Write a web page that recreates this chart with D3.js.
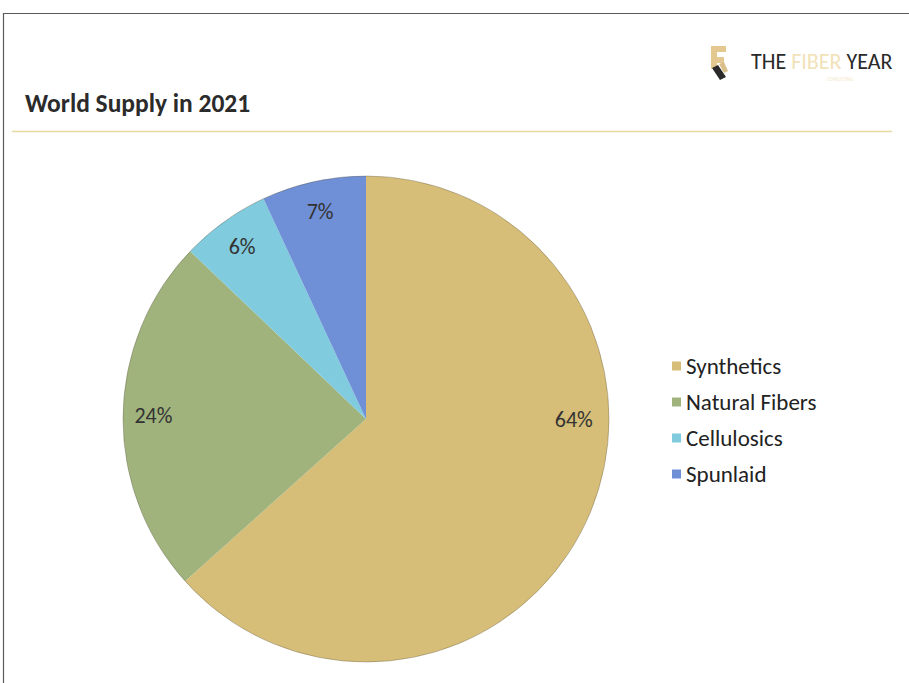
<!DOCTYPE html>
<html>
<head>
<meta charset="utf-8">
<script src="https://cdn.jsdelivr.net/npm/d3@7"></script>
<style>
  html, body { margin: 0; padding: 0; background: #fff; }
  svg { display: block; }
  text { font-family: Carlito, Calibri, Lato, "Open Sans", sans-serif; }
</style>
</head>
<body>
<svg id="chart" width="909" height="683"></svg>
<script>
// Fibre supply shares, 2021 (percent)
const categories = ["Synthetics", "Natural Fibers", "Cellulosics", "Spunlaid"];
const shares = [64, 24, 6, 7];
const colors = ["#d6be78", "#a0b37d", "#80cbdd", "#6f8fd7"];
const titleText = "World Supply in 2021";

const svg = d3.select("#chart");
const W = 909, H = 683;

// frame
svg.append("line").attr("x1", 3).attr("x2", W).attr("y1", 13.5).attr("y2", 13.5)
  .attr("stroke", "#5a5a5a").attr("stroke-width", 1.2);
svg.append("line").attr("x1", 3.5).attr("x2", 3.5).attr("y1", 13).attr("y2", H)
  .attr("stroke", "#5a5a5a").attr("stroke-width", 1.2);

// title and rule
svg.append("text").attr("x", 25).attr("y", 112)
  .attr("font-size", 25.5).attr("font-weight", 700).attr("fill", "#2b2b2b")
  .text(titleText);
svg.append("line").attr("x1", 12).attr("x2", 892).attr("y1", 131.5).attr("y2", 131.5)
  .attr("stroke", "#e6d9a2").attr("stroke-width", 1.3);

// brand mark
const logo = svg.append("g").attr("transform", "translate(706,44)");
logo.append("path").attr("d", "M5,2 L20,2 L20,8 L11,8 L11,13 L18,13 L18,19 L11,19 L11,23 L5,25 Z")
  .attr("fill", "#e3c98f");
logo.append("path").attr("d", "M6,24 L12,21 L20,33 L14,36 Z").attr("fill", "#2a2a2a");
logo.append("path").attr("d", "M13,20 L18,18 L22,27 L18,29 Z").attr("fill", "#d9c08a");
const brand = svg.append("text").attr("x", 751).attr("y", 69).attr("font-size", 22)
  .attr("font-family", "Lato, sans-serif");
brand.append("tspan").attr("fill", "#2a2a2a").text("THE ");
brand.append("tspan").attr("fill", "#f1e2b8").text("FIBER");
brand.append("tspan").attr("fill", "#2a2a2a").text(" YEAR");
svg.append("text").attr("x", 840).attr("y", 81).attr("font-size", 5)
  .attr("fill", "#f3e8c8").attr("text-anchor", "middle").text("CONSULTING");

// pie
const cx = 366, cy = 419, R = 243;
const pie = d3.pie().sort(null).value(d => d.value);
const data = pie(categories.map((c, i) => ({ name: c, value: shares[i], color: colors[i] })));
const arc = d3.arc().innerRadius(0).outerRadius(R);
const g = svg.append("g").attr("transform", `translate(${cx},${cy})`);

g.selectAll("path.slice").data(data).join("path")
  .attr("class", "slice")
  .attr("d", arc)
  .attr("fill", d => d.data.color);
g.append("circle").attr("r", R).attr("fill", "none")
  .attr("stroke", "rgba(90,80,60,0.35)").attr("stroke-width", 1);

// data labels: along mid-angle, except a dominant slice spanning 3 o'clock sits at 3 o'clock
const labelR = R * 0.875;
g.selectAll("text.lbl").data(data).join("text")
  .attr("class", "lbl")
  .attr("transform", d => {
    let a = (d.startAngle + d.endAngle) / 2;
    if (d.endAngle - d.startAngle > Math.PI && d.startAngle <= Math.PI / 2 && d.endAngle >= Math.PI / 2) a = Math.PI / 2;
    const r = a === Math.PI / 2 ? R * 0.855 : labelR;
    const x = r * Math.sin(a), y = -r * Math.cos(a);
    return `translate(${x},${y})`;
  })
  .attr("text-anchor", "middle")
  .attr("dy", "0.35em")
  .attr("font-size", 22)
  .attr("fill", "#333")
  .text(d => d.data.value + "%");

// legend
const legend = svg.append("g").attr("transform", "translate(672,366)");
const rows = legend.selectAll("g").data(categories).join("g")
  .attr("transform", (d, i) => `translate(0,${i * 36})`);
rows.append("rect").attr("x", 0).attr("y", -4.5).attr("width", 9).attr("height", 9)
  .attr("fill", (d, i) => colors[i]);
rows.append("text").attr("x", 14).attr("dy", "0.35em")
  .attr("font-size", 23).attr("fill", "#222").text(d => d);
</script>
</body>
</html>
